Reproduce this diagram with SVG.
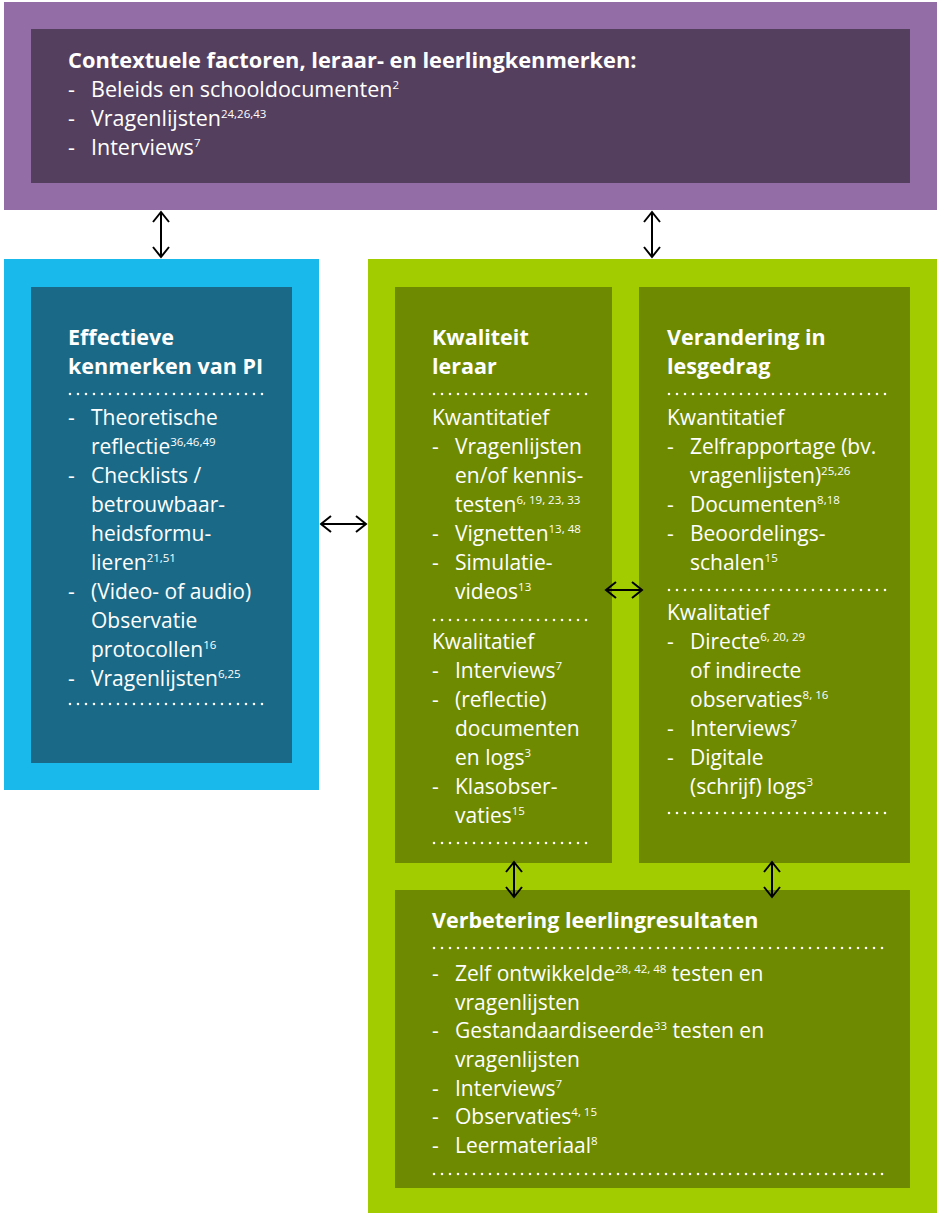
<svg xmlns="http://www.w3.org/2000/svg" width="938" height="1214" viewBox="0 0 938 1214">
<defs>
<marker id="ah" markerUnits="userSpaceOnUse" markerWidth="16" markerHeight="20" refX="11" refY="9" orient="auto-start-reverse">
<path d="M1,1 L11,9 L1,17" fill="none" stroke="#000" stroke-width="2"/>
</marker>
<style>
text{font-family:"Open Sans","Noto Sans","Liberation Sans",sans-serif;fill:#fff;font-size:21px}
.b{font-weight:700;font-size:21.5px}
.t{font-size:21.5px}
.tb{font-weight:700;font-size:21.8px}
.s{font-size:11.5px}
.dots{stroke:#fff;stroke-width:2.6;stroke-linecap:round;stroke-dasharray:0 8;fill:none}
.conn{stroke:#000;stroke-width:2;fill:none;marker-start:url(#ah);marker-end:url(#ah)}
</style>
</defs>
<rect width="938" height="1214" fill="#fff"/>

<g id="context">
<rect x="4" y="2" width="933" height="208" fill="#936ea6"/>
<rect x="31" y="29" width="879" height="154" fill="#553f5e"/>
<text x="68" y="68" class="tb">Contextuele factoren, leraar- en leerlingkenmerken:</text>
<text x="68" y="97" class="t">-</text><text x="91" y="97" class="t">Beleids en schooldocumenten<tspan class="s" dy="-8">2</tspan></text>
<text x="68" y="126" class="t">-</text><text x="91" y="126" class="t">Vragenlijsten<tspan class="s" dy="-8">24,26,43</tspan></text>
<text x="68" y="155" class="t">-</text><text x="91" y="155" class="t">Interviews<tspan class="s" dy="-8">7</tspan></text>
</g>

<g id="pi">
<rect x="4" y="259" width="315" height="531" fill="#19b9ec"/>
<rect x="31" y="287" width="261" height="476" fill="#1a6a87"/>
<text x="68" y="345" class="b">Effectieve</text>
<text x="68" y="374" class="b">kenmerken van PI</text>
<line x1="70" y1="394" x2="268" y2="394" class="dots"/>
<text x="68" y="425">-</text><text x="91" y="425">Theoretische</text>
<text x="91" y="454">reflectie<tspan class="s" dy="-8">36,46,49</tspan></text>
<text x="68" y="483">-</text><text x="91" y="483">Checklists /</text>
<text x="91" y="512">betrouwbaar-</text>
<text x="91" y="541">heidsformu-</text>
<text x="91" y="570">lieren<tspan class="s" dy="-8">21,51</tspan></text>
<text x="68" y="599">-</text><text x="91" y="599">(Video- of audio)</text>
<text x="91" y="628">Observatie</text>
<text x="91" y="657">protocollen<tspan class="s" dy="-8">16</tspan></text>
<text x="68" y="686">-</text><text x="91" y="686">Vragenlijsten<tspan class="s" dy="-8">6,25</tspan></text>
<line x1="70" y1="704" x2="268" y2="704" class="dots"/>
</g>

<g id="green-outer">
<rect x="368" y="259" width="569" height="954" fill="#a2cb00"/>
</g>

<g id="kwaliteit">
<rect x="395" y="287" width="217" height="576" fill="#6e8a00"/>
<text x="432" y="345" class="b">Kwaliteit</text>
<text x="432" y="374" class="b">leraar</text>
<line x1="434" y1="394" x2="590" y2="394" class="dots"/>
<text x="432" y="425">Kwantitatief</text>
<text x="432" y="454">-</text><text x="455" y="454">Vragenlijsten</text>
<text x="455" y="483">en/of kennis-</text>
<text x="455" y="512">testen<tspan class="s" dy="-8">6, 19, 23, 33</tspan></text>
<text x="432" y="541">-</text><text x="455" y="541">Vignetten<tspan class="s" dy="-8">13, 48</tspan></text>
<text x="432" y="570">-</text><text x="455" y="570">Simulatie-</text>
<text x="455" y="599">videos<tspan class="s" dy="-8">13</tspan></text>
<line x1="434" y1="620" x2="590" y2="620" class="dots"/>
<text x="432" y="649">Kwalitatief</text>
<text x="432" y="678">-</text><text x="455" y="678">Interviews<tspan class="s" dy="-8">7</tspan></text>
<text x="432" y="707">-</text><text x="455" y="707">(reflectie)</text>
<text x="455" y="736">documenten</text>
<text x="455" y="765">en logs<tspan class="s" dy="-8">3</tspan></text>
<text x="432" y="794">-</text><text x="455" y="794">Klasobser-</text>
<text x="455" y="823">vaties<tspan class="s" dy="-8">15</tspan></text>
<line x1="434" y1="843" x2="590" y2="843" class="dots"/>
</g>

<g id="verandering">
<rect x="639" y="287" width="271" height="576" fill="#6e8a00"/>
<text x="667" y="345" class="b">Verandering in</text>
<text x="667" y="374" class="b">lesgedrag</text>
<line x1="669" y1="394" x2="890" y2="394" class="dots"/>
<text x="667" y="425">Kwantitatief</text>
<text x="667" y="454">-</text><text x="690" y="454">Zelfrapportage (bv.</text>
<text x="690" y="483">vragenlijsten)<tspan class="s" dy="-8">25,26</tspan></text>
<text x="667" y="512">-</text><text x="690" y="512">Documenten<tspan class="s" dy="-8">8,18</tspan></text>
<text x="667" y="541">-</text><text x="690" y="541">Beoordelings-</text>
<text x="690" y="570">schalen<tspan class="s" dy="-8">15</tspan></text>
<line x1="669" y1="590" x2="890" y2="590" class="dots"/>
<text x="667" y="620">Kwalitatief</text>
<text x="667" y="649">-</text><text x="690" y="649">Directe<tspan class="s" dy="-8">6, 20, 29</tspan></text>
<text x="690" y="678">of indirecte</text>
<text x="690" y="707">observaties<tspan class="s" dy="-8">8, 16</tspan></text>
<text x="667" y="736">-</text><text x="690" y="736">Interviews<tspan class="s" dy="-8">7</tspan></text>
<text x="667" y="765">-</text><text x="690" y="765">Digitale</text>
<text x="690" y="794">(schrijf) logs<tspan class="s" dy="-8">3</tspan></text>
<line x1="669" y1="813" x2="890" y2="813" class="dots"/>
</g>

<g id="leerling">
<rect x="395" y="890" width="515" height="298" fill="#6e8a00"/>
<text x="432" y="928" class="b">Verbetering leerlingresultaten</text>
<line x1="434" y1="948" x2="890" y2="948" class="dots"/>
<text x="432" y="981">-</text><text x="455" y="981">Zelf ontwikkelde<tspan class="s" dy="-8">28, 42, 48</tspan><tspan dy="8"> testen en</tspan></text>
<text x="455" y="1010">vragenlijsten</text>
<text x="432" y="1038">-</text><text x="455" y="1038">Gestandaardiseerde<tspan class="s" dy="-8">33</tspan><tspan dy="8"> testen en</tspan></text>
<text x="455" y="1067">vragenlijsten</text>
<text x="432" y="1096">-</text><text x="455" y="1096">Interviews<tspan class="s" dy="-8">7</tspan></text>
<text x="432" y="1124">-</text><text x="455" y="1124">Observaties<tspan class="s" dy="-8">4, 15</tspan></text>
<text x="432" y="1153">-</text><text x="455" y="1153">Leermateriaal<tspan class="s" dy="-8">8</tspan></text>
<line x1="434" y1="1174" x2="890" y2="1174" class="dots"/>
</g>

<g id="connectors">
<line x1="161" y1="212" x2="161" y2="257" class="conn"/>
<line x1="652" y1="212" x2="652" y2="257" class="conn"/>
<line x1="321" y1="524" x2="366" y2="524" class="conn"/>
<line x1="606" y1="590" x2="642" y2="590" class="conn"/>
<line x1="514" y1="862" x2="514" y2="897" class="conn"/>
<line x1="772" y1="862" x2="772" y2="897" class="conn"/>
</g>
</svg>
